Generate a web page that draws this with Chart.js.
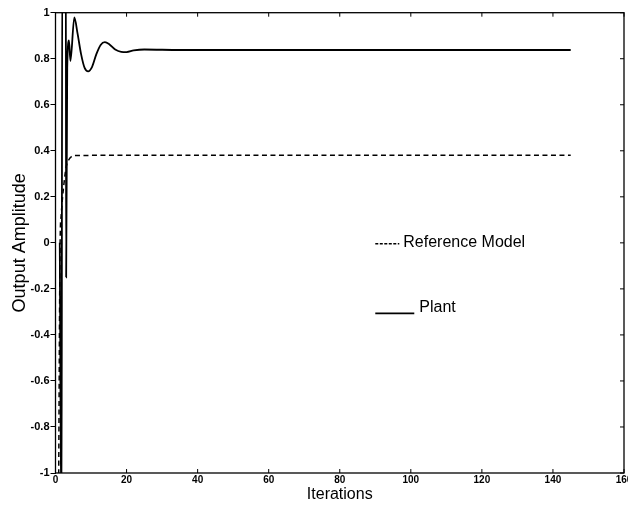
<!DOCTYPE html>
<html>
<head>
<meta charset="utf-8">
<script src="https://cdn.jsdelivr.net/npm/chart.js@4.4.0/dist/chart.umd.min.js"></script>
<style>
  body { margin: 0; background: #fff; }
  #wrap { width: 628px; height: 506px; }
</style>
</head>
<body>
<div id="wrap"><canvas id="grafica" width="628" height="506"></canvas></div>
<script>
// ticks
const xTicks = [0, 20, 40, 60, 80, 100, 120, 140, 160];
const yTicks = [-1, -0.8, -0.6, -0.4, -0.2, 0, 0.2, 0.4, 0.6, 0.8, 1];

// planta (linea continua)
const plantIter = [1.2, 1.7, 1.9, 2.9, 3.0, 3.3, 3.8, 4.2, 5.3, 6.2, 7.2, 8.2, 9.2, 10.3, 11.5, 12.7, 13.9, 15.2, 16.8, 18.5, 20, 22, 25, 35, 145];
const plantOut  = [0, -1.3, 1.3, 1.3, -0.15, 0.76, 0.88, 0.79, 0.98, 0.91, 0.82, 0.76, 0.745, 0.765, 0.82, 0.86, 0.872, 0.862, 0.84, 0.83, 0.829, 0.836, 0.84, 0.838, 0.838];

// modelo de referencia (linea discontinua)
const refIter = [0.8, 1.3, 1.6, 2.0, 2.4, 3.0, 3.7, 4.5, 6, 145];
const refOut  = [-1.3, 0.0, 0.12, 0.2, 0.26, 0.33, 0.36, 0.375, 0.38, 0.381];

const toPts = (xs, ys) => xs.map((x, i) => ({ x, y: ys[i] }));

const fuente = '"Liberation Sans", Arial, sans-serif';

// caja estilo matlab con ticks hacia dentro
const cajaPlugin = {
  id: 'caja',
  afterDatasetsDraw(chart) {
    const { ctx, chartArea: a, scales } = chart;
    ctx.save();
    ctx.strokeStyle = '#000';
    ctx.lineWidth = 1.3;
    ctx.strokeRect(a.left, a.top, a.right - a.left, a.bottom - a.top);
    ctx.lineWidth = 1;
    ctx.beginPath();
    xTicks.forEach(v => {
      const px = scales.x.getPixelForValue(v);
      ctx.moveTo(px, a.bottom); ctx.lineTo(px, a.bottom - 4);
      ctx.moveTo(px, a.top); ctx.lineTo(px, a.top + 4);
    });
    yTicks.forEach(v => {
      const py = scales.y.getPixelForValue(v);
      ctx.moveTo(a.right, py); ctx.lineTo(a.right - 4, py);
    });
    ctx.stroke();
    ctx.restore();
  }
};

// etiquetas de leyenda (texto dentro del grafico)
const leyendaPlugin = {
  id: 'leyenda',
  afterDraw(chart) {
    const { ctx, scales } = chart;
    const x0 = scales.x.getPixelForValue(90);
    ctx.save();
    ctx.fillStyle = '#000';
    ctx.strokeStyle = '#000';
    ctx.font = '16px ' + fuente;
    ctx.textBaseline = 'alphabetic';

    const y1 = scales.y.getPixelForValue(-0.017);
    ctx.lineWidth = 1.5;
    ctx.setLineDash([3, 1.5]);
    ctx.beginPath();
    ctx.moveTo(x0, y1 - 3); ctx.lineTo(x0 + 24, y1 - 3);
    ctx.stroke();
    ctx.setLineDash([]);
    ctx.fillText('Reference Model', x0 + 28, y1);

    const y2 = scales.y.getPixelForValue(-0.3);
    ctx.lineWidth = 1.8;
    ctx.beginPath();
    ctx.moveTo(x0, y2 + 1.5); ctx.lineTo(x0 + 39, y2 + 1.5);
    ctx.stroke();
    ctx.fillText('Plant', x0 + 44, y2);
    ctx.restore();
  }
};

new Chart(document.getElementById('grafica'), {
  type: 'line',
  data: {
    datasets: [
      {
        label: 'Plant',
        data: toPts(plantIter, plantOut),
        borderColor: '#000',
        borderWidth: 1.8,
        pointRadius: 0,
        cubicInterpolationMode: 'monotone',
        clip: 0
      },
      {
        label: 'Reference Model',
        data: toPts(refIter, refOut),
        borderColor: '#000',
        borderWidth: 1.5,
        borderDash: [5, 3.5],
        pointRadius: 0,
        cubicInterpolationMode: 'monotone',
        clip: 0
      }
    ]
  },
  options: {
    responsive: false,
    animation: false,
    layout: { padding: { left: 0, right: 4, top: 12.7, bottom: 0 } },
    plugins: {
      legend: { display: false },
      tooltip: { enabled: false }
    },
    scales: {
      x: {
        type: 'linear',
        min: 0,
        max: 160,
        afterBuildTicks: s => { s.ticks = xTicks.map(v => ({ value: v })); },
        afterFit: s => { s.height = 33; s.paddingLeft = 0; s.paddingRight = 0; },
        grid: { display: true, drawOnChartArea: false, drawTicks: false },
        border: { display: false },
        ticks: {
          padding: 1,
          color: '#000',
          maxRotation: 0,
          font: { family: fuente, size: 10, weight: 'bold' },
          callback: v => String(v)
        },
        title: {
          display: true,
          text: 'Iterations',
          color: '#000',
          font: { family: fuente, size: 16 },
          padding: { top: 0, bottom: 1.4 }
        }
      },
      y: {
        type: 'linear',
        min: -1,
        max: 1,
        afterBuildTicks: s => { s.ticks = yTicks.map(v => ({ value: v })); },
        afterFit: s => { s.width = 55.5; s.paddingTop = 0; s.paddingBottom = 0; },
        grid: { drawOnChartArea: false, drawTicks: true, tickLength: 5, color: '#000' },
        border: { display: false },
        ticks: {
          padding: 1,
          color: '#000',
          font: { family: fuente, size: 11, weight: 'bold' },
          callback: v => String(Math.round(v * 10) / 10)
        },
        title: {
          display: true,
          text: 'Output Amplitude',
          color: '#000',
          font: { family: fuente, size: 18 },
          padding: { top: 9, bottom: 0 }
        }
      }
    }
  },
  plugins: [cajaPlugin, leyendaPlugin]
});
</script>
</body>
</html>
